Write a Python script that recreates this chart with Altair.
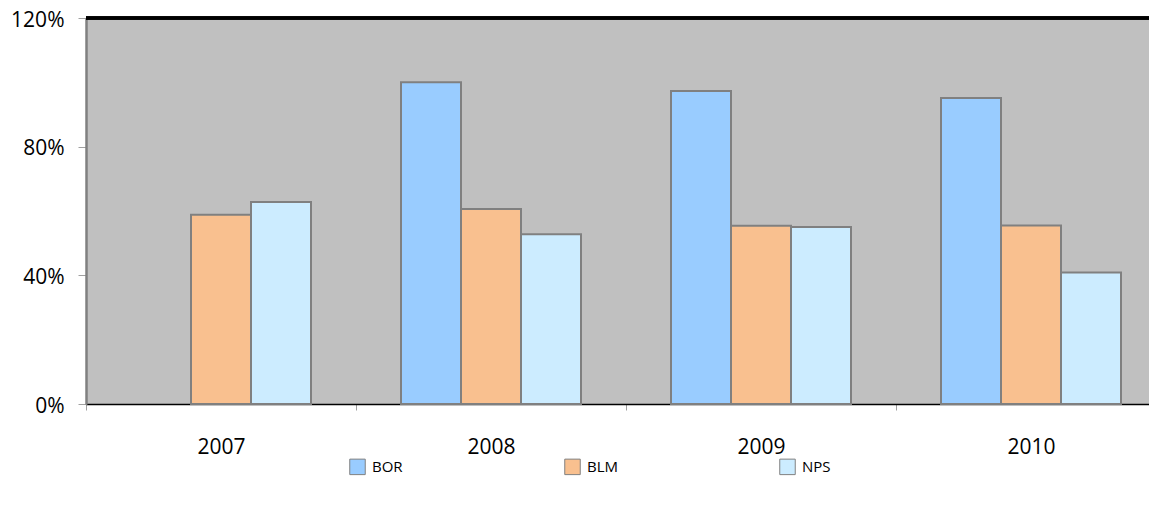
import altair as alt
import pandas as pd

years = ["2007", "2008", "2009", "2010"]
agencies = ["BOR", "BLM", "NPS"]
bor = [None, 100, 97.3, 95.1]
blm = [58.8, 60.6, 55.4, 55.5]
nps = [62.8, 52.8, 55.0, 40.9]
colors = ["#99CCFF", "#F9C08F", "#CCECFF"]

rows = []
for i, y in enumerate(years):
    for a, vals in zip(agencies, [bor, blm, nps]):
        if vals[i] is not None:
            rows.append({"year": y, "agency": a, "value": vals[i] / 100})
df = pd.DataFrame(rows)

FONT = "Open Sans"

bars = alt.Chart(df).mark_bar(stroke="#808080", strokeWidth=2).encode(
    x=alt.X("year:N", sort=years, title=None,
            scale=alt.Scale(paddingInner=0, paddingOuter=0, range=[0, 1080]),
            axis=alt.Axis(labelAngle=0, tickBand="extent", domainColor="#000000",
                          domainWidth=1.5, tickColor="#A0A0A0", tickSize=6,
                          labelPadding=26, labelFontSize=21, labelFont=FONT,
                          labelColor="#000000", grid=False)),
    xOffset=alt.XOffset("agency:N", sort=agencies,
                        scale=alt.Scale(paddingInner=0, paddingOuter=0.75)),
    y=alt.Y("value:Q", title=None,
            scale=alt.Scale(domain=[0, 1.2]),
            axis=alt.Axis(values=[0, 0.4, 0.8, 1.2], format=".0%", grid=False,
                          domainColor="#808080", domainWidth=2.5, tickColor="#A0A0A0",
                          tickSize=8, labelPadding=14, labelFontSize=21,
                          labelOffset=2, labelFont=FONT, labelColor="#000000")),
    color=alt.Color("agency:N", sort=agencies,
                    scale=alt.Scale(domain=agencies, range=colors),
                    legend=alt.Legend(orient="none", legendX=263, legendY=440,
                                      direction="horizontal", title=None,
                                      symbolType="square", symbolSize=240,
                                      symbolStrokeColor="#808080", symbolStrokeWidth=1,
                                      labelFontSize=15, labelFont=FONT,
                                      labelColor="#000000", gridAlign="all",
                                      columnPadding=158, labelOffset=6)),
)

top = alt.Chart(df).mark_rule(color="#000000", strokeWidth=2.5).encode(
    x=alt.value(0), x2=alt.value(1080), y=alt.value(0)
)

chart = alt.layer(bars, top).properties(
    width=1063, height=386,
    autosize=alt.AutoSizeParams(type="none"),
    padding={"left": 78, "top": 10, "right": 0, "bottom": 90},
).configure_view(fill="#C0C0C0", stroke=None)

chart.save("out.html", embed_options={"renderer": "svg", "actions": False})
